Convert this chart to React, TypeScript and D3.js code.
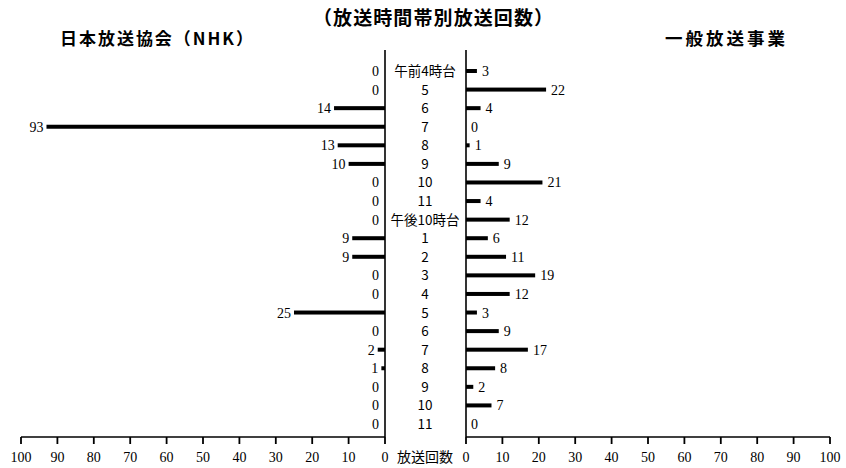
import React from "react";
import * as d3 from "d3";

const categories = ["午前4時台", "5", "6", "7", "8", "9", "10", "11", "午後10時台", "1", "2", "3", "4", "5", "6", "7", "8", "9", "10", "11"];
const nhkValues = [0, 0, 14, 93, 13, 10, 0, 0, 0, 9, 9, 0, 0, 25, 0, 2, 1, 0, 0, 0];
const generalValues = [3, 22, 4, 0, 1, 9, 21, 4, 12, 6, 11, 19, 12, 3, 9, 17, 8, 2, 7, 0];
const tickValues = [0, 10, 20, 30, 40, 50, 60, 70, 80, 90, 100];
const title = "（放送時間帯別放送回数）";
const leftTitle = "日本放送協会（NHK）";
const rightTitle = "一般放送事業";
const axisTitle = "放送回数";

const W = 846;
const H = 468;
const serif = "'Liberation Serif', 'DejaVu Serif', serif";
const cjk = "'Noto Sans CJK JP', sans-serif";

export default function App() {
  const xLeft = d3.scaleLinear().domain([0, 100]).range([385, 21]);
  const xRight = d3.scaleLinear().domain([0, 100]).range([466, 830]);
  const y = d3.scalePoint<number>().domain(d3.range(categories.length)).range([71, 424]);
  const axisY = 437;
  const barH = 4;

  return (
    <svg width={W} height={H} style={{ position: "absolute", left: 0, top: 0, background: "#fff" }}>
      <rect width={W} height={H} fill="#fff" />
      <text x={313} y={25} textLength={240} lengthAdjust="spacing" fontFamily={cjk} fontWeight="bold" fontSize={19}>{title}</text>
      <text x={60} y={45} textLength={193} lengthAdjust="spacing" fontFamily={cjk} fontWeight="bold" fontSize={17}>{leftTitle}</text>
      <text x={665} y={45} textLength={120} lengthAdjust="spacing" fontFamily={cjk} fontWeight="bold" fontSize={17.5}>{rightTitle}</text>

      {/* vertical axis lines */}
      <line x1={xLeft(0)} x2={xLeft(0)} y1={50} y2={axisY} stroke="#000" strokeWidth={1.6} />
      <line x1={xRight(0)} x2={xRight(0)} y1={50} y2={axisY} stroke="#000" strokeWidth={1.6} />

      {/* bottom axes */}
      <line x1={xLeft(100)} x2={xLeft(0)} y1={axisY} y2={axisY} stroke="#000" strokeWidth={1.6} />
      <line x1={xRight(0)} x2={xRight(100)} y1={axisY} y2={axisY} stroke="#000" strokeWidth={1.6} />
      {tickValues.map((t) => (
        <g key={"l" + t}>
          <line x1={xLeft(t)} x2={xLeft(t)} y1={axisY} y2={axisY + 7} stroke="#000" strokeWidth={1.8} />
          <text x={xLeft(t)} y={axisY + 25} textAnchor="middle" fontFamily={serif} fontSize={14}>{t}</text>
          <line x1={xRight(t)} x2={xRight(t)} y1={axisY} y2={axisY + 7} stroke="#000" strokeWidth={1.8} />
          <text x={xRight(t)} y={axisY + 25} textAnchor="middle" fontFamily={serif} fontSize={14}>{t}</text>
        </g>
      ))}
      <text x={425} y={axisY + 25} textAnchor="middle" fontFamily={cjk} fontSize={14}>{axisTitle}</text>

      {categories.map((c, i) => {
        const cy = y(i)!;
        const nv = nhkValues[i];
        const gv = generalValues[i];
        return (
          <g key={i}>
            <text x={425} y={cy + 5} textAnchor="middle" fontFamily={cjk} fontSize={13.5}>{c}</text>
            {nv > 0 && (
              <rect x={xLeft(nv)} y={cy - barH / 2} width={xLeft(0) - xLeft(nv)} height={barH} fill="#000" />
            )}
            <text x={xLeft(nv) - (nv > 0 ? 3 : 6)} y={cy + 5} textAnchor="end" fontFamily={serif} fontSize={14}>{nv}</text>
            {gv > 0 && (
              <rect x={xRight(0)} y={cy - barH / 2} width={xRight(gv) - xRight(0)} height={barH} fill="#000" />
            )}
            <text x={xRight(gv) + 5} y={cy + 5} textAnchor="start" fontFamily={serif} fontSize={14}>{gv}</text>
          </g>
        );
      })}
    </svg>
  );
}
